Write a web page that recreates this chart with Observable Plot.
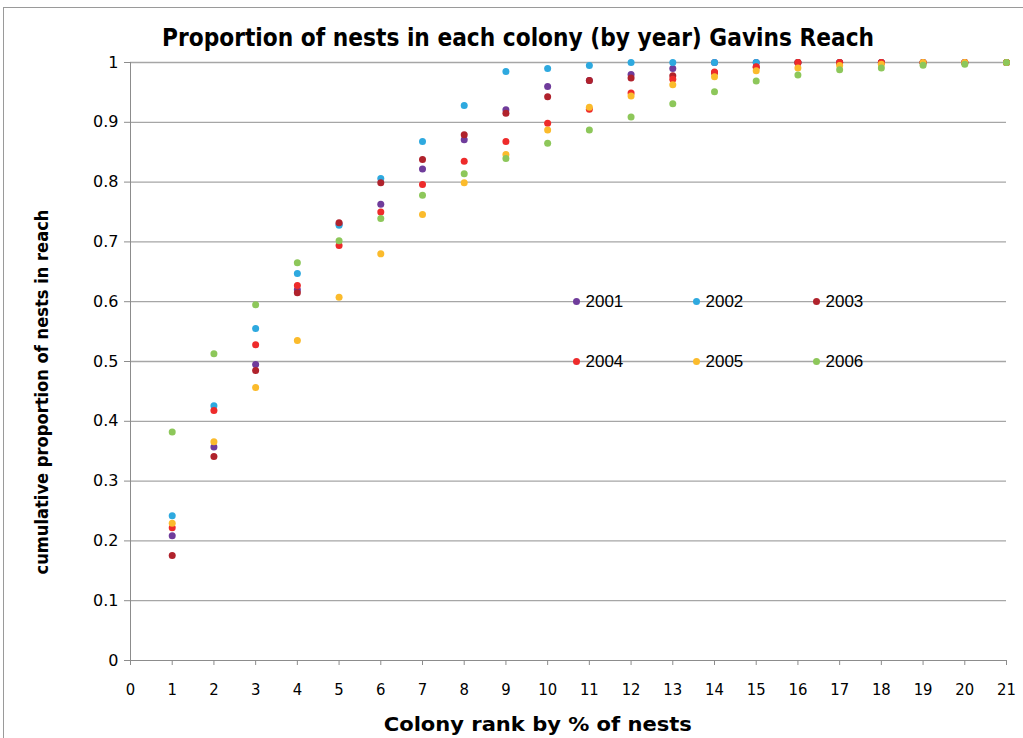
<!DOCTYPE html>
<html><head><meta charset="utf-8">
<script src="https://cdn.jsdelivr.net/npm/d3@7"></script>
<script src="https://cdn.jsdelivr.net/npm/@observablehq/plot@0.6"></script>
<style>
body{margin:0;background:#fff;}
#wrap{position:relative;width:1023px;height:738px;overflow:hidden;background:#fff;}
#frame{position:absolute;left:3px;top:7px;width:1040px;height:760px;border:1px solid #9a9a9a;box-sizing:border-box;}
#chart{position:absolute;left:0;top:0;}
.lbl{position:absolute;white-space:nowrap;font-weight:bold;color:#000;font-family:"DejaVu Sans Condensed","Liberation Sans",sans-serif;}
#legend{position:absolute;left:0;top:0;}
.li{position:absolute;font:17px "Liberation Sans",sans-serif;color:#000;white-space:nowrap;line-height:20px;}
.li i{display:inline-block;width:7px;height:7px;border-radius:50%;margin-right:6px;vertical-align:2px;}
</style></head>
<body><div id="wrap"><div id="frame"></div><div id="chart"></div><div id="legend"></div>
<div class="lbl" id="title">Proportion of nests in each colony (by year) Gavins Reach</div>
<div class="lbl" id="xlab">Colony rank by % of nests</div>
<div class="lbl" id="ylab">cumulative proportion of nests in reach</div>
</div>
<script>
const years = ["2001", "2002", "2003", "2004", "2005", "2006"];
const colors = ["#6f3c9b", "#2ea9df", "#b0222c", "#ee2b2b", "#fbbb2c", "#8dc75a"];
const ranks = [1, 2, 3, 4, 5, 6, 7, 8, 9, 10, 11, 12, 13, 14, 15, 16, 17, 18, 19, 20, 21];
const xTicks = [0, 1, 2, 3, 4, 5, 6, 7, 8, 9, 10, 11, 12, 13, 14, 15, 16, 17, 18, 19, 20, 21];
const yTicks = [0, 0.1, 0.2, 0.3, 0.4, 0.5, 0.6, 0.7, 0.8, 0.9, 1];
const yTickLabels = ["0", "0.1", "0.2", "0.3", "0.4", "0.5", "0.6", "0.7", "0.8", "0.9", "1"];

const v2001 = [0.2085, 0.357, 0.495, 0.62, 0.73, 0.763, 0.822, 0.871, 0.921, 0.96, 0.970, 0.980, 0.990, 1, 1, 1, 1, 1, 1, 1, 1];
const v2002 = [0.242, 0.426, 0.555, 0.647, 0.728, 0.806, 0.868, 0.928, 0.985, 0.990, 0.995, 1, 1, 1, 1, 1, 1, 1, 1, 1, 1];
const v2003 = [0.1755, 0.341, 0.485, 0.615, 0.732, 0.799, 0.838, 0.879, 0.915, 0.9426, 0.970, 0.974, 0.978, 0.983, 0.992, 1, 1, 1, 1, 1, 1];
const v2004 = [0.222, 0.418, 0.528, 0.627, 0.694, 0.750, 0.796, 0.835, 0.868, 0.8985, 0.922, 0.949, 0.972, 0.984, 0.993, 1, 1, 1, 1, 1, 1];
const v2005 = [0.2296, 0.3657, 0.4565, 0.535, 0.6076, 0.680, 0.746, 0.799, 0.846, 0.887, 0.925, 0.944, 0.963, 0.976, 0.986, 0.991, 0.995, 0.997, 1, 1, 1];
const v2006 = [0.382, 0.513, 0.595, 0.665, 0.702, 0.739, 0.778, 0.814, 0.8395, 0.865, 0.887, 0.909, 0.931, 0.951, 0.969, 0.979, 0.988, 0.991, 0.9955, 0.997, 1];

const series = [v2001, v2002, v2003, v2004, v2005, v2006];
const data = [];
series.forEach((vals, i) => vals.forEach((v, j) => data.push({year: years[i], rank: ranks[j], value: v})));

const gray = "#a6a6a6";
const chart = Plot.plot({
  width: 1023,
  height: 738,
  marginLeft: 130,
  marginRight: 17,
  marginTop: 62,
  marginBottom: 78,
  style: {background: "transparent", color: "#000", fontFamily: "'Liberation Sans', sans-serif"},
  x: {domain: [0, 21], axis: null},
  y: {domain: [0, 1], axis: null},
  color: {domain: years, range: colors},
  marks: [
    Plot.ruleY(yTicks.filter(d => d > 0), {stroke: gray, strokeWidth: 1.3}),
    Plot.ruleX([0], {stroke: "#8c8c8c"}),
    Plot.ruleY([0], {stroke: "#8c8c8c"}),
    Plot.axisY({ticks: yTicks, tickSize: 6, tickPadding: 6, stroke: "#8c8c8c", fill: "#000",
      tickFormat: d => yTickLabels[yTicks.indexOf(d)], fontSize: 16, fontFamily: "'DejaVu Sans', sans-serif", label: null}),
    Plot.axisX({ticks: xTicks, tickSize: 5, tickPadding: 18, stroke: "#8c8c8c", fill: "#000",
      tickFormat: d => String(d), fontSize: 16.5, fontFamily: "'DejaVu Sans Condensed','Liberation Sans',sans-serif", label: null}),
    Plot.dot(data, {x: "rank", y: "value", fill: "year", r: 3.5, stroke: "none"})
  ]
});
document.getElementById("chart").appendChild(chart);

// legend
const leg = document.getElementById("legend");
const legCols = [576, 696, 816];
const legRows = [302, 362];
years.forEach((y, i) => {
  const d = document.createElement("div");
  d.className = "li";
  d.style.left = (legCols[i % 3] - 3.5) + "px";
  d.style.top = (legRows[Math.floor(i / 3)] - 10) + "px";
  d.innerHTML = `<i style="background:${colors[i]}"></i>${y}`;
  leg.appendChild(d);
});

// fit labels to reference widths
function place(id, size, cx, cy, targetW, rotate) {
  const el = document.getElementById(id);
  el.style.fontSize = size + "px";
  el.style.lineHeight = size + "px";
  const w = el.getBoundingClientRect().width;
  const sx = targetW / w;
  el.style.left = (cx - w / 2) + "px";
  el.style.top = (cy - size / 2) + "px";
  el.style.transformOrigin = "50% 50%";
  el.style.transform = (rotate ? "rotate(-90deg) " : "") + `scaleX(${sx})`;
}
place("title", 25, 518, 37, 712, false);
place("xlab", 20, 538, 724, 308, false);
place("ylab", 18, 42, 392, 365, true);
</script></body></html>
